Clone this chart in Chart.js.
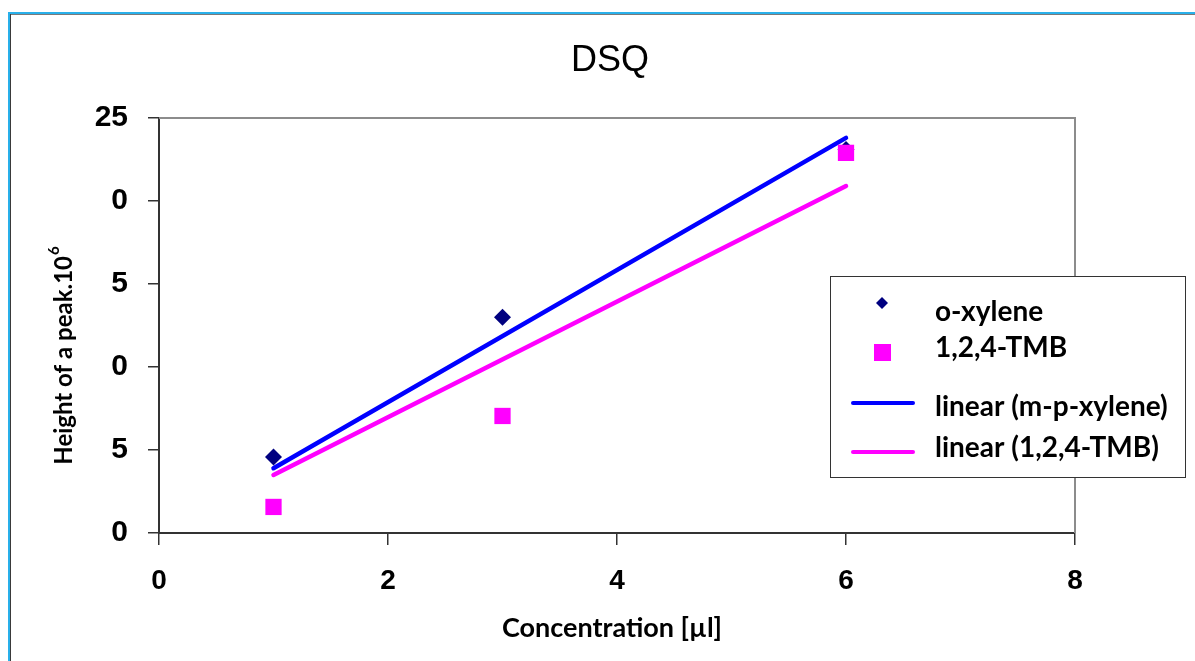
<!DOCTYPE html>
<html>
<head>
<meta charset="utf-8">
<title>DSQ</title>
<script src="https://cdn.jsdelivr.net/npm/chart.js@4/dist/chart.umd.min.js"></script>
<style>
  html, body { margin: 0; padding: 0; background: #fff; }
  #wrap { width: 1195px; height: 661px; position: relative; }
</style>
</head>
<body>
<div id="wrap"><canvas id="chart" width="1195" height="661"></canvas></div>
<script>
// data
const xValues = [1, 3, 6];
const oXylene = [4.58, 13.0, 23.1];
const tmb = [1.57, 7.05, 22.9];
const trendX = [1, 6];
const trendXylene = [3.9, 23.8];
const trendTmb = [3.5, 20.9];
const xTicks = [0, 2, 4, 6, 8];
// the left digits of the y labels are cut off in the source, only these parts show
const yTickLabels = ["0", "5", "0", "5", "0", "25"];

const toPoints = (xs, ys) => xs.map((x, i) => ({ x: x, y: ys[i] }));

const LABEL_FONT = "Lato, 'Open Sans', sans-serif";

/* decorations: frame, box, titles, legend */
const decor = {
  id: "decor",
  beforeDatasetsDraw(chart) {
    const { ctx, chartArea: a } = chart;
    ctx.save();
    ctx.strokeStyle = "#8c8c8c";
    ctx.lineWidth = 2;
    ctx.beginPath();
    ctx.moveTo(a.left, a.top);
    ctx.lineTo(a.right, a.top);
    ctx.lineTo(a.right, a.bottom);
    ctx.stroke();
    ctx.restore();
  },
  afterDraw(chart) {
    const { ctx } = chart;
    ctx.save();

    // outer frame
    ctx.fillStyle = "#29b0ea";
    ctx.fillRect(8, 12, 1195, 2);
    ctx.fillRect(8, 12, 2, 661);
    ctx.fillStyle = "#7a7a7a";
    ctx.fillRect(10, 14, 1195, 1);
    ctx.fillStyle = "#3a3a3a";
    ctx.fillRect(10, 14, 1, 661);

    // title
    ctx.fillStyle = "#000";
    ctx.font = "36px 'Liberation Sans', Arial, sans-serif";
    ctx.textAlign = "center";
    ctx.textBaseline = "middle";
    ctx.fillText("DSQ", 610, 61);

    // x title
    ctx.font = "bold 27px " + LABEL_FONT;
    ctx.fillText("Concentration [\u00b5l]", 612, 628);

    // y title with superscript
    ctx.translate(64, 356);
    ctx.rotate(-Math.PI / 2);
    const main = "Height of a peak.10";
    ctx.font = "bold 24px " + LABEL_FONT;
    const wMain = ctx.measureText(main).width;
    ctx.font = "bold 15px " + LABEL_FONT;
    const wSup = ctx.measureText("6").width;
    const x0 = -(wMain + wSup) / 2;
    ctx.textAlign = "left";
    ctx.font = "bold 24px " + LABEL_FONT;
    ctx.fillText(main, x0, 0);
    ctx.font = "bold 15px " + LABEL_FONT;
    ctx.fillText("6", x0 + wMain + 1, -10);
    ctx.setTransform(1, 0, 0, 1, 0, 0);

    // legend
    ctx.strokeStyle = "#333";
    ctx.lineWidth = 1;
    ctx.fillStyle = "#fff";
    ctx.fillRect(830, 276, 355, 201);
    ctx.strokeRect(830.5, 276.5, 355, 201);

    const ds = chart.data.datasets;
    const rows = [
      { mark: 303, text: 312 },
      { mark: 352, text: 348 },
      { mark: 403, text: 407 },
      { mark: 452, text: 448 }
    ];
    ds.forEach((d, i) => {
      const r = rows[i];
      if (d.showLine) {
        ctx.strokeStyle = d.borderColor;
        ctx.lineWidth = 4;
        ctx.lineCap = "round";
        ctx.beginPath();
        ctx.moveTo(853, r.mark);
        ctx.lineTo(913, r.mark);
        ctx.stroke();
      } else if (d.pointStyle === "rectRot") {
        ctx.fillStyle = d.backgroundColor;
        ctx.beginPath();
        ctx.moveTo(882, r.mark - 6);
        ctx.lineTo(888, r.mark);
        ctx.lineTo(882, r.mark + 6);
        ctx.lineTo(876, r.mark);
        ctx.closePath();
        ctx.fill();
      } else {
        ctx.fillStyle = d.backgroundColor;
        ctx.fillRect(874, r.mark - 8, 17, 17);
      }
      ctx.fillStyle = "#000";
      ctx.font = "bold 28px " + LABEL_FONT;
      ctx.textAlign = "left";
      ctx.textBaseline = "middle";
      ctx.fillText(d.label, 935, r.text);
    });

    ctx.restore();
  }
};

new Chart(document.getElementById("chart"), {
  type: "scatter",
  data: {
    datasets: [
      {
        label: "o-xylene",
        data: toPoints(xValues, oXylene),
        pointStyle: "rectRot",
        pointRadius: 8.5,
        backgroundColor: "#000080",
        borderWidth: 0,
        showLine: false,
        order: 2
      },
      {
        label: "1,2,4-TMB",
        data: toPoints(xValues, tmb),
        pointStyle: "rect",
        pointRadius: 11.5,
        backgroundColor: "#ff00ff",
        borderWidth: 0,
        showLine: false,
        order: 1
      },
      {
        label: "linear (m-p-xylene)",
        data: toPoints(trendX, trendXylene),
        showLine: true,
        borderColor: "#0000ff",
        borderWidth: 4.5,
        borderCapStyle: "round",
        pointRadius: 0,
        order: 4
      },
      {
        label: "linear (1,2,4-TMB)",
        data: toPoints(trendX, trendTmb),
        showLine: true,
        borderColor: "#ff00ff",
        borderWidth: 4.5,
        borderCapStyle: "round",
        pointRadius: 0,
        order: 3
      }
    ]
  },
  options: {
    responsive: false,
    animation: false,
    layout: { padding: { left: 0, right: 120, top: 118, bottom: 0 } },
    plugins: {
      legend: { display: false },
      tooltip: { enabled: false },
      title: { display: false }
    },
    scales: {
      x: {
        type: "linear",
        min: xTicks[0],
        max: xTicks[xTicks.length - 1],
        afterBuildTicks: s => { s.ticks = xTicks.map(v => ({ value: v })); },
        afterFit: s => { s.height = 128; },
        ticks: {
          color: "#000",
          padding: 19,
          font: { family: "'Liberation Sans', Arial, sans-serif", size: 28, weight: "bold" }
        },
        grid: { drawOnChartArea: false, tickLength: 12, color: "#333", lineWidth: 1.5 },
        border: { color: "#333", width: 2 }
      },
      y: {
        min: 0,
        max: 25,
        afterFit: s => { s.width = 159; },
        ticks: {
          stepSize: 5,
          color: "#000",
          padding: 20,
          callback: v => yTickLabels[Math.round(v / 5)],
          font: { family: "'Liberation Sans', Arial, sans-serif", size: 30, weight: "bold" }
        },
        grid: { drawOnChartArea: false, tickLength: 11, color: "#333", lineWidth: 1.5 },
        border: { color: "#333", width: 2 }
      }
    }
  },
  plugins: [decor]
});
</script>
</body>
</html>
